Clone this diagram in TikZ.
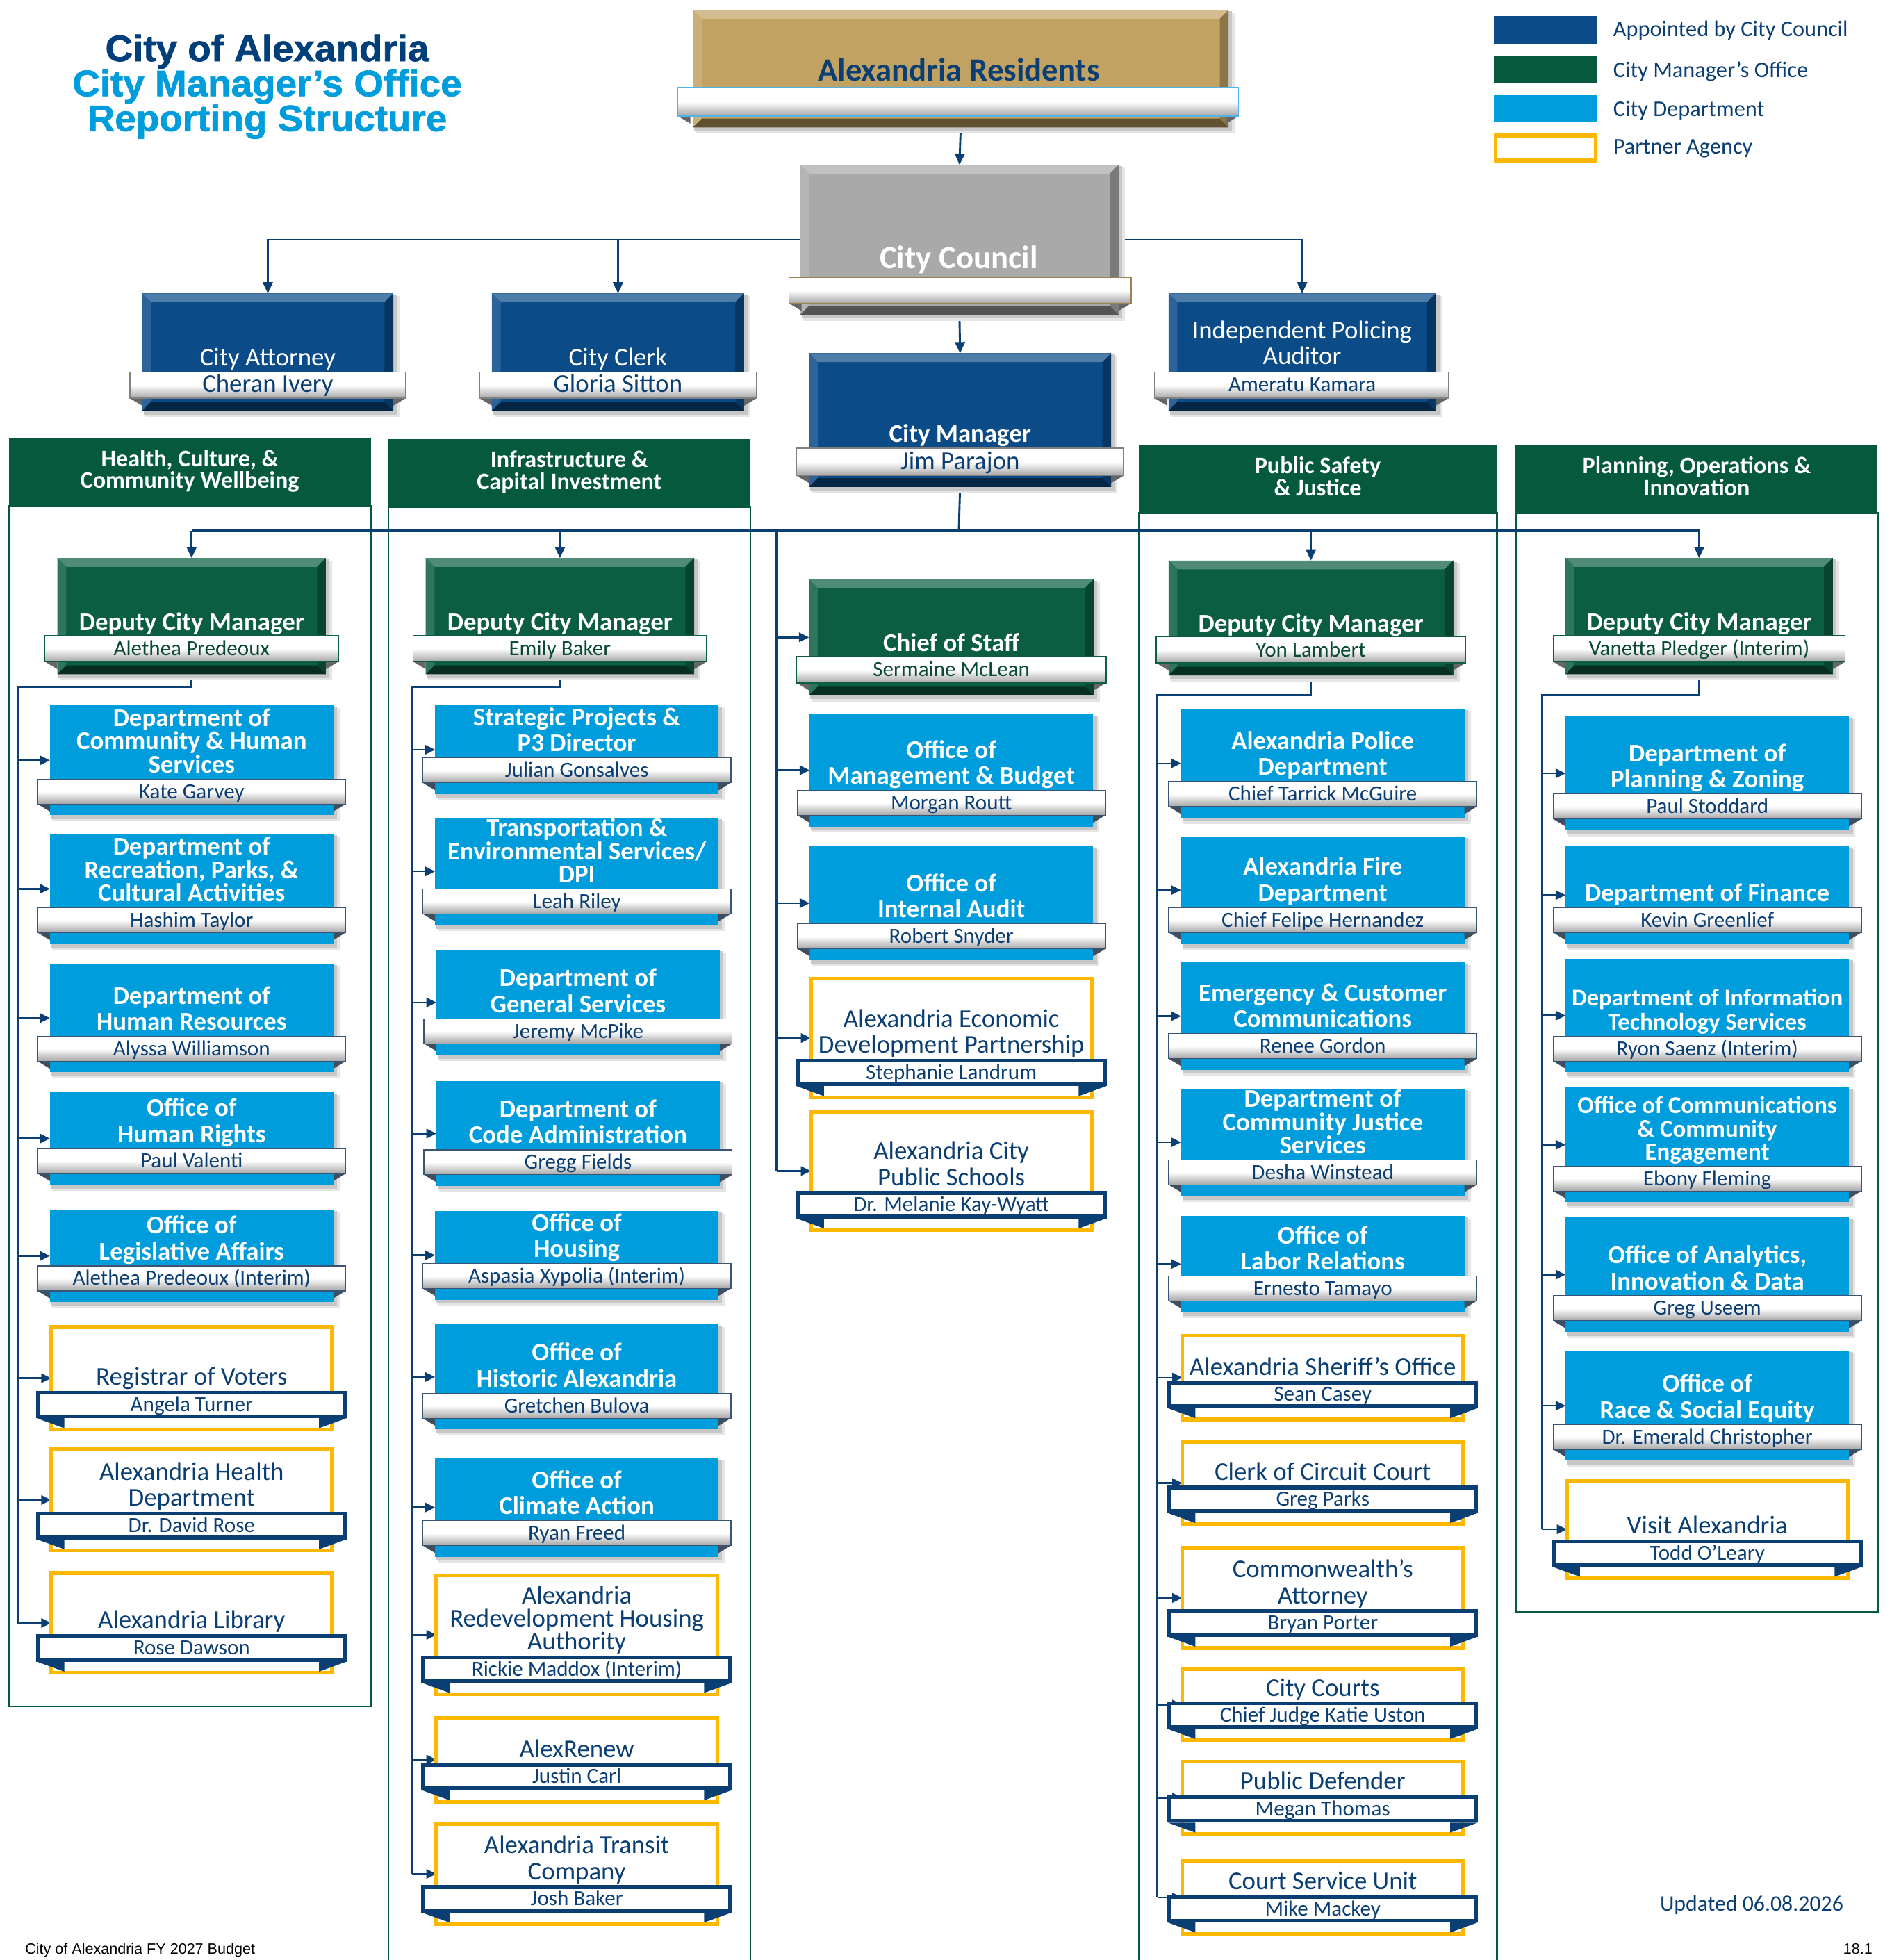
\documentclass[tikz,border=0pt]{standalone}
\usepackage{fontspec}
\setmainfont{Carlito}
\newfontfamily\arialf{Liberation Sans}
\newfontfamily\titlef[FakeStretch=1.034,BoldFeatures={FakeBold=1.3}]{Liberation Sans}
\usetikzlibrary{arrows.meta}
\pgfdeclarelayer{back}\pgfdeclarelayer{bg}
\pgfsetlayers{back,bg,main}
\definecolor{navy}{HTML}{0B3F73}
\definecolor{linec}{HTML}{0B3F73}
\definecolor{apblue}{HTML}{0A4B88}
\definecolor{cmgreen}{HTML}{055A3E}
\definecolor{dgreen}{HTML}{0B5E42}
\definecolor{ltblue}{HTML}{009DDC}
\definecolor{pyellow}{HTML}{FFB800}
\definecolor{goldres}{HTML}{C2A263}
\definecolor{cgray}{HTML}{A9A9A9}
\definecolor{namegreen}{HTML}{0A4A32}
\definecolor{titledark}{HTML}{003F7A}
\definecolor{ribb}{HTML}{3A5573}
\definecolor{foldc}{HTML}{3E4E5E}
\definecolor{ribblue}{HTML}{4FB3E8}
\newcommand\ml[1]{\vbox{\lineskiplimit=-\maxdimen\lineskip=0pt\halign{\hfil##\hfil\cr#1\crcr}}}
\newcommand\tfont{\fontsize{20.5}{20.8}\selectfont\bfseries}
\newcommand\ttfont{\fontsize{20.5}{18.5}\selectfont\bfseries}
\newcommand\tsfont{\fontsize{19.2}{19.5}\selectfont\bfseries}
\newcommand\tstfont{\fontsize{19.4}{18.5}\selectfont\bfseries}
\newcommand\nfont{\fontsize{17.3}{18}\selectfont}
\newcommand\pfont{\fontsize{20.5}{20.8}\selectfont}
\newcommand\ptfont{\fontsize{20.5}{18.5}\selectfont}
\newcommand\hfont{\fontsize{19}{17.5}\selectfont\bfseries}
\newcommand\bigfont{\fontsize{20.5}{20.5}\selectfont}
\newcommand\lfont{\fontsize{18}{18}\selectfont}
\newcommand\ttlfont{\fontsize{29.5}{28}\titlef\bfseries}
\tikzset{
  conn/.style={draw=linec,line width=1.6pt},
  arr/.style={conn,-{Triangle[length=9pt,width=8pt]}},
  sarr/.style={draw=linec,line width=1.4pt,-{Triangle[length=8pt,width=7.5pt]}},
  deptbox/.style={rectangle,inner sep=0,outer sep=0,fill=ltblue,minimum width=227pt},
  ribbon/.style={rectangle,inner sep=0,outer sep=0,minimum width=247pt,minimum height=20pt,
    draw=ribb,line width=0.7pt,top color=white,bottom color=black!35,middle color=white},
  pbox/.style={rectangle,inner sep=0,outer sep=0,draw=pyellow,line width=3pt,fill=white,minimum width=225pt},
  pribbon/.style={rectangle,inner sep=0,outer sep=0,draw=navy,line width=3pt,fill=white,
    minimum width=246pt,minimum height=19pt},
  txt/.style={anchor=base,inner sep=0,outer sep=0},
  shadowA/.style={fill=black!10},
  shadowB/.style={fill=black!22}
}
% bevel box: id x1 y1 x2 y2 color
\newcommand\bev[6]{%
 \pgfmathsetmacro\bvw{(#4)-(#2)}\pgfmathsetmacro\bvh{(#5)-(#3)}%
 \fill[shadowA] ({#2+2},{#3+2}) rectangle ({#4+5},{#5+5});
 \fill[shadowB] ({#2+1},{#3+1}) rectangle ({#4+3},{#5+3});
 \node[rectangle,inner sep=0,outer sep=0,fill=#6,minimum width=\bvw pt,minimum height=\bvh pt] (#1) at ({(#2+#4)/2},{(#3+#5)/2}) {};
 \fill[#6!72!white] ({#2},{#3}) -- ({#4},{#3}) -- ({#4-7},{#3+7}) -- ({#2+7},{#3+7}) -- cycle;
 \fill[#6!86!white] ({#2},{#3}) -- ({#2+7},{#3+7}) -- ({#2+7},{#5-7}) -- ({#2},{#5}) -- cycle;
 \fill[#6!72!black] ({#4},{#3}) -- ({#4},{#5}) -- ({#4-7},{#5-7}) -- ({#4-7},{#3+7}) -- cycle;
 \fill[#6!50!black] ({#2},{#5}) -- ({#4},{#5}) -- ({#4-7},{#5-7}) -- ({#2+7},{#5-7}) -- cycle;
}
% bevel ribbon: id x1 y1 x2 y2 border
\newcommand\brib[6]{%
 \fill[black!60] ({#2},{#5}) -- ({#2+10},{#5+6}) -- ({#2+10},{#5}) -- cycle;
 \fill[black!60] ({#4},{#5}) -- ({#4-10},{#5+6}) -- ({#4-10},{#5}) -- cycle;
 \pgfmathsetmacro\brw{(#4)-(#2)}\pgfmathsetmacro\brh{(#5)-(#3)}%
 \node[rectangle,inner sep=0,outer sep=0,minimum width=\brw pt,minimum height=\brh pt,draw=#6,line width=0.8pt,
   top color=white,bottom color=black!35,middle color=white] (#1) at ({(#2+#4)/2},{(#3+#5)/2}) {};
}
% city department: [font] id cx y1 ribbontop title name
\newcommand\dept[7][\tfont]{%
 \pgfmathsetmacro\bh{#5+29-#4}\pgfmathsetmacro\by{(#4+#5+29)/2}%
 \fill[shadowA] ({#3-113.5+2},{#4+2}) rectangle ({#3+113.5+5},{#5+29+5});
 \fill[shadowB] ({#3-113.5+1},{#4+1}) rectangle ({#3+113.5+3},{#5+29+3});
 \node[deptbox,minimum height=\bh pt] (#2) at (#3,\by) {};
 \fill[foldc] ({#3-123.5},{#5+20}) -- ({#3-113.5},{#5+26}) -- ({#3-113.5},{#5+20}) -- cycle;
 \fill[foldc] ({#3+123.5},{#5+20}) -- ({#3+113.5},{#5+26}) -- ({#3+113.5},{#5+20}) -- cycle;
 \node[ribbon] (#2r) at (#3,{#5+10}) {};
 \node[txt,font=#1,text=white] at (#3,{#5-5}) {\ml{#6}};
 \node[txt,font=\nfont,text=navy] at (#3,{#5+15.5}) {#7};
}
% partner agency
\newcommand\partner[7][\pfont]{%
 \pgfmathsetmacro\bh{#5+31-#4}\pgfmathsetmacro\by{(#4+#5+31)/2}%
 \node[pbox,minimum height=\bh pt] (#2) at (#3,\by) {};
 \fill[navy] ({#3-124},{#5+22}) -- ({#3-102},{#5+22}) -- ({#3-102},{#5+30}) -- cycle;
 \fill[navy] ({#3+124},{#5+22}) -- ({#3+102},{#5+22}) -- ({#3+102},{#5+30}) -- cycle;
 \node[pribbon] (#2r) at (#3,{#5+11}) {};
 \node[txt,font=#1,text=navy] at (#3,{#5-4.5}) {\ml{#6}};
 \node[txt,font=\nfont,text=navy] at (#3,{#5+16.5}) {#7};
}
% green deputy box: id cx halfwidth y1 ribbontop title name
\newcommand\dcm[7]{%
 \bev{#1}{#2-#3}{#4}{#2+#3}{#5+31}{dgreen}%
 \brib{#1r}{#2-#3-10}{#5}{#2+#3+10}{#5+21}{dgreen}%
 \node[txt,font=\tfont,text=white] at (#2,{#5-4}) {#6};
 \node[txt,font=\nfont,text=namegreen] at (#2,{#5+16}) {#7};
}
% panel: id x1 x2 ytop yheaderbottom ybottom title
\newcommand\panel[7]{%
 \draw[cmgreen,line width=1.3pt] ({#2},{#5}) rectangle ({#3},{#6});
 \pgfmathsetmacro\pw{(#3)-(#2)}\pgfmathsetmacro\ph{(#5)-(#4)}%
 \node[fill=cmgreen,inner sep=0,outer sep=0,minimum width=\pw pt,minimum height=\ph pt] (#1) at ({(#2+#3)/2},{(#4+#5)/2}) {};
 \node[txt,font=\hfont,text=white] at ({(#2+#3)/2},{#5-14}) {\ml{#7}};
}
\begin{document}
\begin{tikzpicture}[x=1pt,y=-1pt]
\useasboundingbox (0,0) rectangle (1515,1570);
\begin{pgfonlayer}{back}
\fill[white] (0,0) rectangle (1515,1570);
\end{pgfonlayer}
% ---------- panels ----------
\begin{pgfonlayer}{bg}
\panel{h1}{7}{297}{351}{405}{1367}{Health, Culture, \&\cr Community Wellbeing}
\panel{h2}{311}{601}{352}{406}{1575}{Infrastructure \&\cr Capital Investment}
\panel{h3}{912}{1199}{357}{411}{1575}{Public Safety\cr \& Justice}
\panel{h4}{1214}{1504}{357}{411}{1291}{Planning, Operations \&\cr Innovation}
\end{pgfonlayer}
% ---------- title ----------
\node[txt,font=\ttlfont,text=titledark] (t1) at (214,49) {City of Alexandria};
\node[txt,font=\ttlfont,text=ltblue] (t2) at (214,77) {City Manager’s Office};
\node[txt,font=\ttlfont,text=ltblue] (t3) at (214,105) {Reporting Structure};
% ---------- legend ----------
\node[fill=apblue,inner sep=0,minimum width=83pt,minimum height=22pt] (lg1) at (1238,24) {};
\node[fill=cmgreen,inner sep=0,minimum width=83pt,minimum height=22pt] (lg2) at (1238,56) {};
\node[fill=ltblue,inner sep=0,minimum width=83pt,minimum height=22pt] (lg3) at (1238,87) {};
\node[draw=pyellow,line width=3pt,fill=white,inner sep=0,minimum width=80pt,minimum height=20pt] (lg4) at (1238,118.5) {};
\node[anchor=base west,inner sep=0,font=\lfont,text=navy] (lt1) at (1292,29) {Appointed by City Council};
\node[anchor=base west,inner sep=0,font=\lfont,text=navy] (lt2) at (1292,62) {City Manager’s Office};
\node[anchor=base west,inner sep=0,font=\lfont,text=navy] (lt3) at (1292,93) {City Department};
\node[anchor=base west,inner sep=0,font=\lfont,text=navy] (lt4) at (1292,123) {Partner Agency};
% ---------- top boxes ----------
\bev{res}{555}{8}{984}{102}{goldres}
\brib{resr}{543}{70}{992}{93}{ribblue}
\node[txt,font=\fontsize{26}{26}\selectfont\bfseries,text=navy] at (768,65) {Alexandria Residents};
\bev{cc}{641}{132}{896}{252}{cgray}
\brib{ccr}{632}{222}{906}{243}{goldres!80!black}
\node[txt,font=\fontsize{26}{26}\selectfont\bfseries,text=white] at (768,215) {City Council};
\bev{ca}{114}{235}{315}{329}{apblue}
\brib{car}{104}{298}{325}{319}{gray}
\node[txt,font=\bigfont,text=white] at (214.5,293) {City Attorney};
\node[txt,font=\bigfont,text=navy] at (214.5,314) {Cheran Ivery};
\bev{clerk}{394}{235}{596}{329}{apblue}
\brib{clerkr}{384}{298}{606}{319}{gray}
\node[txt,font=\bigfont,text=white] at (495,293) {City Clerk};
\node[txt,font=\bigfont,text=navy] at (495,314) {Gloria Sitton};
\bev{ipa}{936}{235}{1150}{329}{apblue}
\brib{ipar}{925}{298}{1160}{319}{gray}
\node[txt,font=\bigfont,text=white] at (1043,292) {\ml{Independent Policing\cr Auditor}};
\node[txt,font=\nfont,text=navy] at (1043,313.5) {Ameratu Kamara};
\bev{cm}{648}{283}{890}{390}{apblue}
\brib{cmr}{638}{359}{900}{381}{gray}
\node[txt,font=\tfont,text=white] at (769,354) {City Manager};
\node[txt,font=\bigfont,text=navy] at (769,376) {Jim Parajon};
% ---------- deputies ----------
\dcm{dcm1}{153.5}{107.5}{447}{509}{Deputy City Manager}{Alethea Predeoux}
\dcm{dcm2}{448.5}{107.5}{447}{509}{Deputy City Manager}{Emily Baker}
\dcm{dcm3}{1050}{114}{449}{510}{Deputy City Manager}{Yon Lambert}
\dcm{dcm4}{1361}{107}{447}{509}{Deputy City Manager}{Vanetta Pledger (Interim)}
\dcm{cos}{762}{114}{464}{526}{Chief of Staff}{Sermaine McLean}
% ---------- panel 1 ----------
\dept[\ttfont]{p1a}{153.5}{565}{624}{Department of\cr Community \& Human\cr Services}{Kate Garvey}
\dept[\ttfont]{p1b}{153.5}{668}{727}{Department of\cr Recreation, Parks, \&\cr Cultural Activities}{Hashim Taylor}
\dept{p1c}{153.5}{772}{830}{Department of\cr Human Resources}{Alyssa Williamson}
\dept{p1d}{153.5}{875}{920}{Office of\cr Human Rights}{Paul Valenti}
\dept{p1e}{153.5}{969}{1014}{Office of\cr Legislative Affairs}{Alethea Predeoux (Interim)}
\partner{p1f}{153.5}{1063}{1114}{Registrar of Voters}{Angela Turner}
\partner{p1g}{153.5}{1161}{1211}{Alexandria Health\cr Department}{Dr. David Rose}
\partner{p1h}{153.5}{1260}{1309}{Alexandria Library}{Rose Dawson}
% ---------- panel 2 ----------
\dept{p2a}{462}{565}{607}{Strategic Projects \&\cr P3 Director}{Julian Gonsalves}
\dept[\ttfont]{p2b}{462}{655}{712}{Transportation \&\cr Environmental Services/\cr DPI}{Leah Riley}
\dept{p2c}{463}{761}{816}{Department of\cr General Services}{Jeremy McPike}
\dept{p2d}{463}{866}{921}{Department of\cr Code Administration}{Gregg Fields}
\dept{p2e}{462}{970}{1012}{Office of\cr Housing}{Aspasia Xypolia (Interim)}
\dept{p2f}{462}{1061}{1116}{Office of\cr Historic Alexandria}{Gretchen Bulova}
\dept{p2g}{462}{1168}{1218}{Office of\cr Climate Action}{Ryan Freed}
\partner[\ptfont]{p2h}{462}{1262}{1326}{Alexandria\cr Redevelopment Housing\cr Authority}{Rickie Maddox (Interim)}
\partner{p2i}{462}{1376}{1412}{AlexRenew}{Justin Carl}
\partner{p2j}{462}{1461}{1510}{Alexandria Transit\cr Company}{Josh Baker}
% ---------- centre column ----------
\dept{pca}{762}{572}{633}{Office of\cr Management \& Budget}{Morgan Routt}
\dept{pcb}{762}{678}{740}{Office of\cr Internal Audit}{Robert Snyder}
\partner{pcc}{762}{784}{848}{Alexandria Economic\cr Development Partnership}{Stephanie Landrum}
\partner{pcd}{762}{891}{954}{Alexandria City\cr Public Schools}{Dr. Melanie Kay-Wyatt}
% ---------- panel 3 ----------
\dept{p3a}{1059.5}{568}{626}{Alexandria Police\cr Department}{Chief Tarrick McGuire}
\dept{p3b}{1059.5}{670}{727}{Alexandria Fire\cr Department}{Chief Felipe Hernandez}
\dept{p3c}{1059.5}{771}{828}{Emergency \& Customer\cr Communications}{Renee Gordon}
\dept[\ttfont]{p3d}{1059.5}{872}{929}{Department of\cr Community Justice\cr Services}{Desha Winstead}
\dept{p3e}{1059.5}{974}{1022}{Office of\cr Labor Relations}{Ernesto Tamayo}
\partner{p3f}{1059.5}{1070}{1106}{Alexandria Sheriff’s Office}{Sean Casey}
\partner{p3g}{1059.5}{1155}{1190}{Clerk of Circuit Court}{Greg Parks}
\partner{p3h}{1059.5}{1240}{1289}{Commonwealth’s\cr Attorney}{Bryan Porter}
\partner{p3i}{1059.5}{1337}{1363}{City Courts}{Chief Judge Katie Uston}
\partner{p3j}{1059.5}{1411}{1438}{Public Defender}{Megan Thomas}
\partner{p3k}{1059.5}{1491}{1518}{Court Service Unit}{Mike Mackey}
% ---------- panel 4 ----------
\dept{p4a}{1367.5}{574}{636}{Department of\cr Planning \& Zoning}{Paul Stoddard}
\dept{p4b}{1367.5}{678}{727}{Department of Finance}{Kevin Greenlief}
\dept[\tsfont]{p4c}{1367.5}{768}{830}{Department of Information\cr Technology Services}{Ryon Saenz (Interim)}
\dept[\tstfont]{p4d}{1367.5}{871}{934}{Office of Communications\cr \& Community\cr Engagement}{Ebony Fleming}
\dept{p4e}{1367.5}{975}{1038}{Office of Analytics,\cr Innovation \& Data}{Greg Useem}
\dept{p4f}{1367.5}{1082}{1141}{Office of\cr Race \& Social Equity}{Dr. Emerald Christopher}
\partner{p4g}{1367.5}{1186}{1233}{Visit Alexandria}{Todd O’Leary}
% ---------- footer ----------
\node[anchor=base west,inner sep=0,font=\arialf\fontsize{12}{12}\selectfont] (foot) at (20,1565) {City of Alexandria FY 2027 Budget};
\node[anchor=base east,inner sep=0,font=\arialf\fontsize{12}{12}\selectfont] (pg) at (1500,1565) {18.1};
\node[txt,font=\fontsize{17.7}{18}\selectfont,text=navy] (upd) at (1403,1531) {Updated 06.08.2026};
% ---------- connectors ----------
\begin{pgfonlayer}{bg}
\draw[arr] (res.south) -- (cc.north);
\path (cc.north west) ++(0,60) coordinate (ccL);
\path (cc.north east) ++(0,60) coordinate (ccR);
\draw[arr] (ccL) -| (ca.north);
\draw[arr] (ccL) -| (clerk.north);
\draw[arr] (ccR) -| (ipa.north);
\draw[arr] (cc.south) -- (cm.north);
\coordinate (bus) at (768,425);
\draw[conn] (cm.south) -- (bus);
\draw[conn] (dcm1.north |- bus) -- (dcm4.north |- bus);
\foreach \d in {dcm1,dcm2,dcm3,dcm4} \draw[arr] (\d.north |- bus) -- (\d.north);
\coordinate (sc) at (622,425);
\draw[conn] (sc) -- (sc |- pcd.west);
\foreach \c in {cos,pca,pcb,pcc,pcd} \draw[sarr] (sc |- \c.west) -- (\c.west);
\coordinate (s1) at (14,550);
\draw[conn] (dcm1.south) |- (s1) -- (s1 |- p1h.west);
\foreach \c in {p1a,p1b,p1c,p1d,p1e,p1f,p1g,p1h} \draw[sarr] (s1 |- \c.west) -- (\c.west);
\coordinate (s2) at (330,550);
\draw[conn] (dcm2.south) |- (s2) -- (s2 |- p2j.west);
\foreach \c in {p2a,p2b,p2c,p2d,p2e,p2f,p2g,p2h,p2i,p2j} \draw[sarr] (s2 |- \c.west) -- (\c.west);
\coordinate (s3) at (927,557);
\draw[conn] (dcm3.south) |- (s3) -- (s3 |- p3k.west);
\foreach \c in {p3a,p3b,p3c,p3d,p3e,p3f,p3g,p3h,p3i,p3j,p3k} \draw[sarr] (s3 |- \c.west) -- (\c.west);
\coordinate (s4) at (1235,557);
\draw[conn] (dcm4.south) |- (s4) -- (s4 |- p4g.west);
\foreach \c in {p4a,p4b,p4c,p4d,p4e,p4f,p4g} \draw[sarr] (s4 |- \c.west) -- (\c.west);
\end{pgfonlayer}
\end{tikzpicture}
\end{document}
